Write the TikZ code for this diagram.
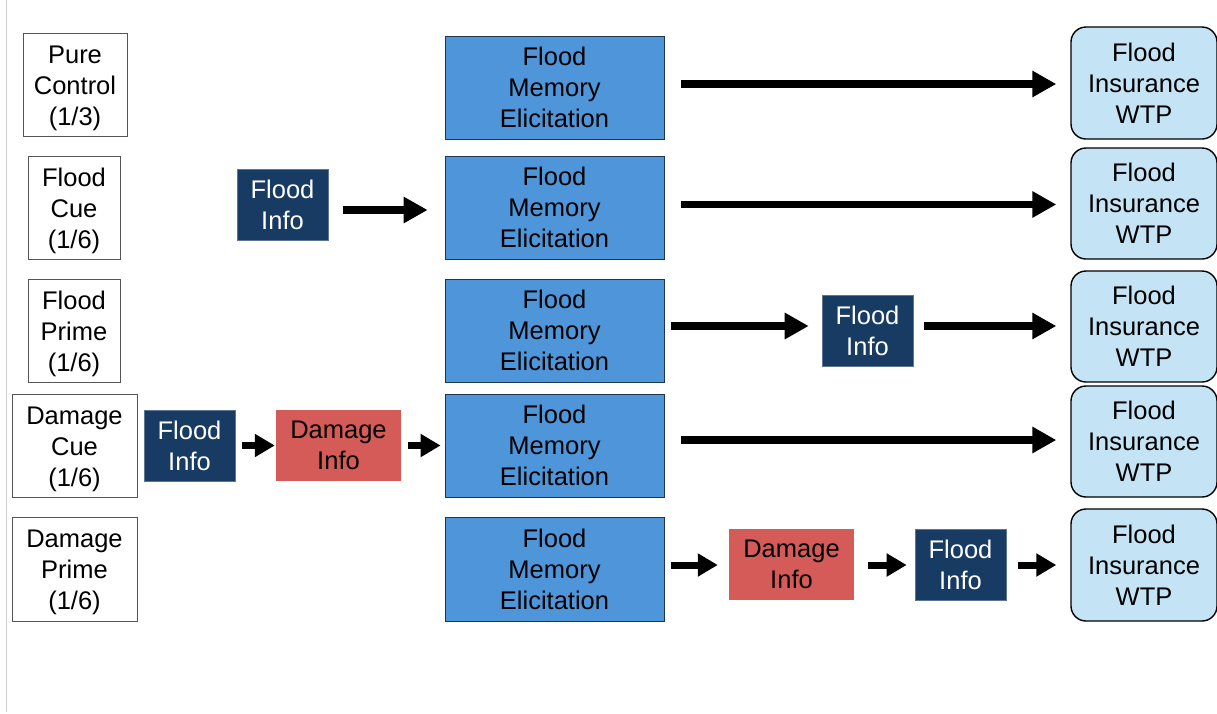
\documentclass[tikz,border=0pt]{standalone}
\usepackage{fontspec}
\setmainfont{Liberation Sans}
\usetikzlibrary{arrows.meta}

\definecolor{elicblue}{HTML}{4E95D9}
\definecolor{elicedge}{HTML}{1E3550}
\definecolor{navy}{HTML}{183B63}
\definecolor{dmgred}{HTML}{D45B57}
\definecolor{wtpblue}{HTML}{C4E4F5}
\definecolor{armgray}{HTML}{555555}

% arm labels sit slightly below the middle of their boxes
\newcommand\armlabel[1]{\raisebox{-3.5pt}[\height][\depth]{\begin{tabular}{@{}c@{}}#1\end{tabular}}}

\begin{document}
\begin{tikzpicture}[x=1pt,y=-1pt,
  every node/.style={inner sep=0pt, align=center,
    font=\fontsize{25.5}{31}\selectfont},
  arm/.style={draw=armgray, line width=1pt, fill=white},
  elic/.style={draw=elicedge, line width=0.8pt, fill=elicblue,
    minimum width=219pt, minimum height=103pt},
  wtp/.style={draw=black, line width=1.4pt, fill=wtpblue, rounded corners=15pt,
    minimum width=146pt},
  floodinfo/.style={fill=navy, text=white, draw=navy!70!white, line width=0.6pt,
    minimum width=91pt, minimum height=71pt},
  dmginfo/.style={fill=dmgred, text=black,
    minimum width=125pt, minimum height=71pt},
  bigarrow/.style={line width=7.5pt, -{Triangle[length=24pt,width=25pt]}},
  smallarrow/.style={line width=7pt, -{Triangle[length=20pt,width=22pt]}}
]
\useasboundingbox (0,0) rectangle (1217,713);

% page edge rule on the left
\draw[draw=black!20, line width=1.5pt] (6.5,0) -- (6.5,712);

% treatment arms
\node[arm, minimum width=104pt, minimum height=103pt] (a1) at (75,84.5) {\armlabel{Pure\\Control\\(1/3)}};
\node[arm, minimum width=92pt, minimum height=103pt] (a2) at (74,207.5) {\armlabel{Flood\\Cue\\(1/6)}};
\node[arm, minimum width=92pt, minimum height=103pt] (a3) at (74,330.5) {\armlabel{Flood\\Prime\\(1/6)}};
\node[arm, minimum width=125pt, minimum height=103pt] (a4) at (74.5,445.5) {\armlabel{Damage\\Cue\\(1/6)}};
\node[arm, minimum width=125pt, minimum height=104pt] (a5) at (74.5,569) {\armlabel{Damage\\Prime\\(1/6)}};

% memory elicitation blocks
\node[elic] (e1) at (554.5,87.5) {Flood\\Memory\\Elicitation};
\node[elic] (e2) at (554.5,207.5) {Flood\\Memory\\Elicitation};
\node[elic] (e3) at (554.5,330.5) {Flood\\Memory\\Elicitation};
\node[elic] (e4) at (554.5,445.5) {Flood\\Memory\\Elicitation};
\node[elic, minimum height=104pt] (e5) at (554.5,569) {Flood\\Memory\\Elicitation};

% willingness-to-pay outcomes
\node[wtp, minimum height=112pt] (w1) at (1144,83) {Flood\\Insurance\\WTP};
\node[wtp, minimum height=111pt] (w2) at (1144,203.5) {Flood\\Insurance\\WTP};
\node[wtp, minimum height=111pt] (w3) at (1144,326.5) {Flood\\Insurance\\WTP};
\node[wtp, minimum height=111pt] (w4) at (1144,441.5) {Flood\\Insurance\\WTP};
\node[wtp, minimum height=112pt] (w5) at (1144,565) {Flood\\Insurance\\WTP};

% information treatments
\node[floodinfo] (fi2) at (282.5,204.5) {Flood\\Info};
\node[floodinfo] (fi3) at (867.5,330.5) {Flood\\Info};
\node[floodinfo] (fi4) at (189.5,445.5) {Flood\\Info};
\node[dmginfo] (di4) at (338.5,445.5) {Damage\\Info};
\node[dmginfo] (di5) at (791.5,564.5) {Damage\\Info};
\node[floodinfo] (fi5) at (960.5,564.5) {Flood\\Info};

% row 1
\draw[bigarrow, shorten <=17pt, shorten >=14pt]
  ([yshift=3.5pt]e1.east) -- ([yshift=3.5pt]e1.east -| w1.west);
% row 2
\draw[bigarrow, shorten <=15pt, shorten >=17pt]
  ([yshift=-5.5pt]fi2.east) -- ([yshift=-5.5pt]fi2.east -| e2.west);
\draw[bigarrow, shorten <=17pt, shorten >=14pt]
  ([yshift=3pt]e2.east) -- ([yshift=3pt]e2.east -| w2.west);
% row 3
\draw[bigarrow, shorten <=7pt, shorten >=13pt]
  ([yshift=4.5pt]e3.east) -- ([yshift=4.5pt]e3.east -| fi3.west);
\draw[bigarrow, shorten <=11pt, shorten >=14pt]
  ([yshift=4.5pt]fi3.east) -- ([yshift=4.5pt]fi3.east -| w3.west);
% row 4
\draw[smallarrow, shorten <=7pt, shorten >=1pt]
  (fi4.east) -- (di4.west);
\draw[smallarrow, shorten <=7pt, shorten >=4pt]
  (di4.east) -- (di4.east -| e4.west);
\draw[bigarrow, shorten <=17pt, shorten >=14pt]
  ([yshift=5.5pt]e4.east) -- ([yshift=5.5pt]e4.east -| w4.west);
% row 5
\draw[smallarrow, shorten <=7pt, shorten >=11pt]
  ([yshift=-0.5pt]di5.west -| e5.east) -- ([yshift=-0.5pt]di5.west);
\draw[smallarrow, shorten <=14pt, shorten >=8pt]
  ([yshift=-0.5pt]di5.east) -- ([yshift=-0.5pt]di5.east -| fi5.west);
\draw[smallarrow, shorten <=12pt, shorten >=14pt]
  ([yshift=-0.5pt]fi5.east) -- ([yshift=-0.5pt]fi5.east -| w5.west);
\end{tikzpicture}
\end{document}
